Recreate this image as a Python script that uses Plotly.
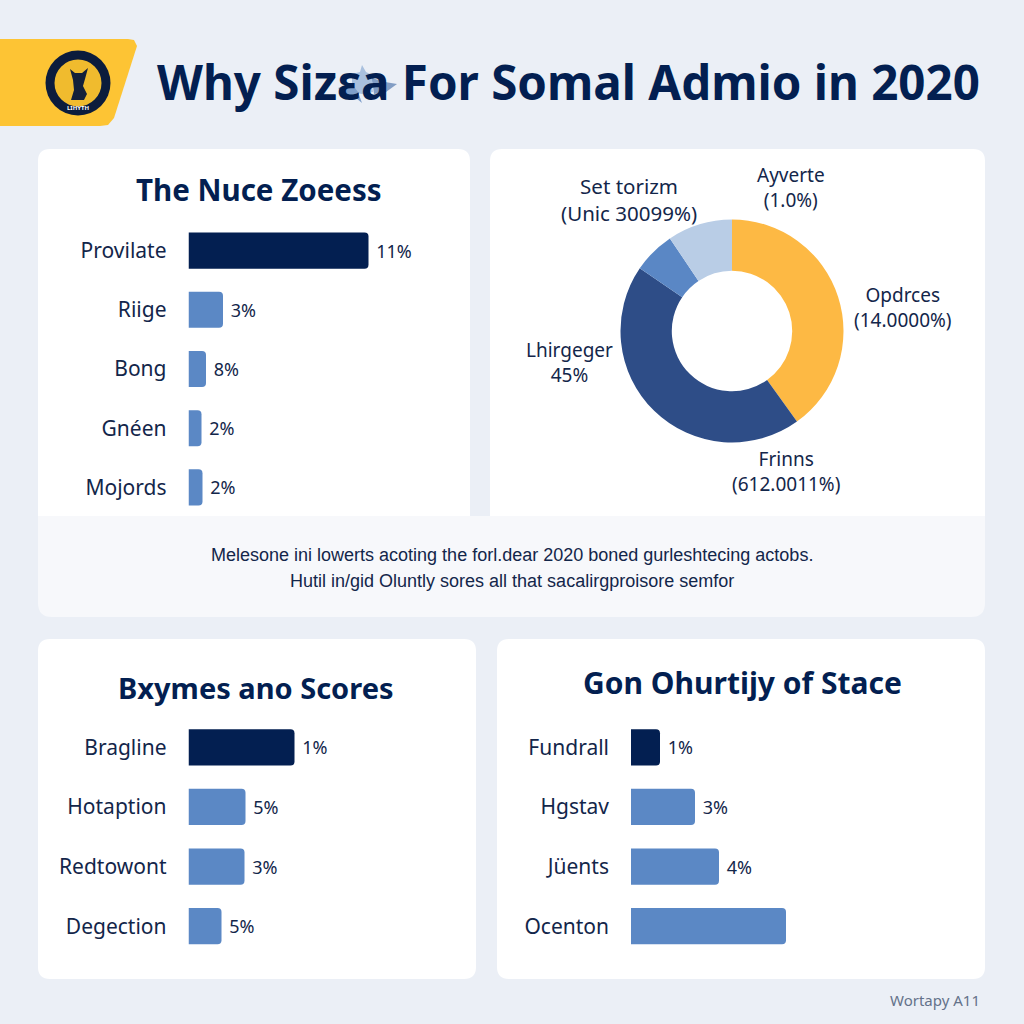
import plotly.graph_objects as go

# ---------- data ----------
title_text = "Why Sizεa For Somal Admio in 2020"
note_lines = ["Melesone ini lowerts acoting the forl.dear 2020 boned gurleshtecing actobs.",
              "Hutil in/gid Oluntly sores all that sacalirgproisore semfor"]
footer_text = "Wortapy A11"

c1_title = "The Nuce Zoeess"
c1_cats = ["Provilate", "Riige", "Bong", "Gnéen", "Mojords"]
c1_vals = [180, 34.5, 17.5, 13, 14]
c1_text = ["11%", "3%", "8%", "2%", "2%"]

c3_title = "Bxymes ano Scores"
c3_cats = ["Bragline", "Hotaption", "Redtowont", "Degection"]
c3_vals = [106, 57, 56, 33]
c3_text = ["1%", "5%", "3%", "5%"]

c4_title = "Gon Ohurtijy of Stace"
c4_cats = ["Fundrall", "Hgstav", "Jüents", "Ocenton"]
c4_vals = [29, 64, 88, 155]
c4_text = ["1%", "3%", "4%", ""]

pie_vals = [40.1, 44.4, 6.1, 9.4]
pie_names = ["Opdrces", "Frinns", "Lhirgeger", "Set torizm"]
pie_colors = ["#fdb944", "#2e4d87", "#5a87c5", "#b9cde6"]
pie_labels = ["Set torizm<br>(Unic 30099%)", "Ayverte<br>(1.0%)", "Opdrces<br>(14.0000%)",
              "Lhirgeger<br>45%", "Frinns<br>(612.0011%)"]
pie_label_sizes = [20.5, 19, 19, 19, 19]

NAVY = "#031f51"
BLUE = "#5b88c5"
INK = "#13264a"
FONT = "Noto Sans"
S = 1024.0

def px(x): return x / S
def py(y): return 1 - y / S

def round_rect(x0, y0, x1, y1, rt=12, rb=12):
    k = lambda x, y: f"{px(x):.5f},{py(y):.5f}"
    return (f"M{k(x0, y0+rt)} Q{k(x0, y0)} {k(x0+rt, y0)} L{k(x1-rt, y0)} Q{k(x1, y0)} {k(x1, y0+rt)} "
            f"L{k(x1, y1-rb)} Q{k(x1, y1)} {k(x1-rb, y1)} L{k(x0+rb, y1)} Q{k(x0, y1)} {k(x0, y1-rb)} Z")

def panel(x0, y0, x1, y1, color="#ffffff", rt=12, rb=12):
    return dict(type="path", xref="paper", yref="paper", path=round_rect(x0, y0, x1, y1, rt, rb),
                fillcolor=color, line_width=0, layer="below")

def poly(pts, color, layer="above", opacity=1):
    p = "M" + " L".join(f"{px(x):.5f},{py(y):.5f}" for x, y in pts) + " Z"
    return dict(type="path", xref="paper", yref="paper", path=p, fillcolor=color,
                line_width=0, layer=layer, opacity=opacity)

def circle(cx, cy, r, color):
    return dict(type="circle", xref="paper", yref="paper", x0=px(cx-r), x1=px(cx+r),
                y0=py(cy+r), y1=py(cy-r), fillcolor=color, line_width=0, layer="above")

def text(x, y, s, size, color=INK, bold=False, anchor="center", family=FONT):
    return dict(x=px(x), y=py(y), xref="paper", yref="paper", text=f"<b>{s}</b>" if bold else s,
                showarrow=False, xanchor=anchor, yanchor="middle",
                font=dict(size=size, color=color, family=family), align="center")

fig = go.Figure()

def bars(idx, cats, vals, labels, x0, x1, ytop, ybot, scale_max, bar_frac):
    colors = [NAVY] + [BLUE] * (len(cats) - 1)
    sfx = "" if idx == 1 else str(idx)
    fig.add_trace(go.Bar(
        y=cats, x=vals, orientation="h", marker=dict(color=colors, cornerradius=4, line_width=0),
        width=bar_frac, text=["\u00a0" + t if t else "" for t in labels], textposition="outside",
        cliponaxis=False, textfont=dict(size=18, color=INK, family=FONT),
        xaxis="x" + sfx, yaxis="y" + sfx, showlegend=False))
    fig.layout["xaxis" + sfx] = dict(domain=[px(x0), px(x1)], range=[0, scale_max], visible=False,
                                     anchor="y" + sfx)
    fig.layout["yaxis" + sfx] = dict(domain=[py(ybot), py(ytop)], autorange="reversed", anchor="x" + sfx,
                                     showline=False, showgrid=False, zeroline=False, ticks="",
                                     ticklabelstandoff=21,
                                     tickfont=dict(size=21, color=INK, family=FONT))

bars(1, c1_cats, c1_vals, c1_text, 188.5, 460, 221, 517, 271.5, 0.61)
bars(2, c3_cats, c3_vals, c3_text, 188.5, 460, 717.5, 956, 271.5, 0.61)
bars(3, c4_cats, c4_vals, c4_text, 631, 970, 717.5, 956, 339, 0.61)

fig.add_trace(go.Pie(values=pie_vals, labels=pie_names, hole=0.54, sort=False, direction="clockwise",
                     rotation=0, textinfo="none", showlegend=False,
                     marker=dict(colors=pie_colors, line_width=0),
                     domain=dict(x=[px(620.5), px(843.5)], y=[py(442.5), py(219.5)])))

shapes = [
    panel(38, 149, 470, 530, rb=0),
    panel(490, 149, 985, 530, rb=0),
    panel(38, 516, 985, 617, "#f7f8fb", rt=0, rb=14),
    panel(38, 639, 476, 979),
    panel(497, 639, 985, 979),
    # header badge
    poly([(0, 39), (128, 39), (134, 40), (137, 46), (114, 118), (108, 125), (100, 126), (0, 126)], "#fdc434", "below"),
    # logo
    circle(78, 83, 32.5, "#0c1c3c"),
    circle(78, 83, 23.5, "#f0bb2e"),
    poly([(70, 69), (75, 73), (82, 73), (88, 68), (85, 79), (83, 86), (87, 94), (84, 100),
          (71, 100), (74, 90), (73, 80)], "#14203a"),
    # smudge over the title
    poly([(352, 74), (360, 72), (362, 65), (366, 72), (374, 76), (372, 86), (373, 92), (362, 94), (352, 92)], "#a9c0de"),
    poly([(338, 88), (352, 84), (358, 92), (362, 103), (356, 98), (346, 94)], "#7f9fcb"),
    poly([(372, 78), (385, 82), (397, 84), (386, 92), (374, 94)], "#5f81b3", opacity=0.75),
]

annotations = [
    text(155, 81, title_text, 47.5, NAVY, True, "left"),
    text(258.5, 189, c1_title, 29.5, NAVY, True),
    text(256, 687, c3_title, 29, NAVY, True),
    text(742, 682, c4_title, 30, NAVY, True),
    text(512, 555, note_lines[0], 18, INK, family="Liberation Sans"),
    text(512, 581, note_lines[1], 18, INK, family="Liberation Sans"),
    text(982, 1000, footer_text, 15, "#64728a", anchor="right"),
    text(78, 107.5, "LIHYTH", 6, "#ffffff", True),
]
for (x, y), s, sz in zip([(629, 199), (791, 187), (903, 307.5), (569, 362), (785.5, 471)], pie_labels, pie_label_sizes):
    annotations.append(text(x, y, s, sz, INK))

fig.update_layout(width=1024, height=1024, margin=dict(l=0, r=0, t=0, b=0), paper_bgcolor="#ebeff6",
                  plot_bgcolor="rgba(0,0,0,0)", shapes=shapes, annotations=annotations,
                  bargap=0.39, font=dict(family=FONT, color=INK))

fig.write_html("out.html", config=dict(displayModeBar=False),
               post_script="document.body.style.margin='0';")
